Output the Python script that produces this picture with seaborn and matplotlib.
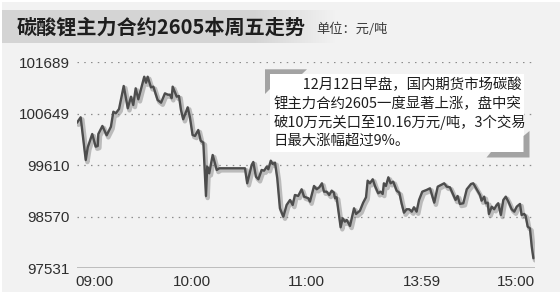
import numpy as np
import pandas as pd
import matplotlib
matplotlib.use("Agg")
import matplotlib.pyplot as plt
import matplotlib.patheffects as pe
from matplotlib.patches import Rectangle, Polygon
import seaborn as sns

# ---------------- data ----------------
title = "碳酸锂主力合约2605本周五走势"
unit_label = "单位：元/吨"
note_lines = [
    "\u3000\u300012月12日早盘，国内期货市场碳酸",
    "锂主力合约2605一度显著上涨，盘中突",
    "破10万元关口至10.16万元/吨，3个交易",
    "日最大涨幅超过9%。",
]

# chart time (minutes on the chart's own time axis) and price (元/吨)
minutes = [
    0.0, 1.8, 4.3, 5.3, 7.5, 9.2, 10.2, 10.5, 12.5, 14.6, 16.7, 17.9, 19.1, 20.7,
    23.0, 25.0, 26.6, 27.7, 28.9, 30.2, 33.1, 34.0, 34.8, 36.4, 37.6, 39.7, 41.4,
    43.3, 44.7, 45.8, 46.6, 47.1, 49.1, 50.2, 51.2, 52.3, 54.5, 55.6,
    56.9, 58.1, 59.7, 60.9, 62.2, 63.5, 64.1, 65.1, 66.8, 68.8, 70.1, 82.7, 83.8,
    86.0, 86.8, 88.1, 89.3, 90.9, 92.1, 93.4, 94.2, 95.4, 96.3, 97.5, 98.6, 99.9,
    101.6, 103.2, 104.9, 106.2, 107.3, 108.9, 110.6, 111.8, 113.9,
    114.7, 116.7, 118.0, 119.3, 120.6, 121.6, 122.9, 124.2, 125.4, 126.5, 127.0,
    127.8, 129.8, 130.8, 131.9, 132.8, 134.4, 136.4, 137.4, 139.3, 140.9, 142.3,
    143.1, 144.2, 145.6, 146.7, 148.3, 149.5, 150.5, 151.1, 152.1, 153.3, 154.4,
    155.7, 157.4, 158.7, 159.8, 161.0, 162.3, 163.6, 164.8, 165.9, 167.2, 168.4,
    170.0, 172.1, 173.8, 175.9, 177.6, 179.2, 180.8, 182.0, 183.6, 185.3, 186.4,
    187.4, 188.5, 190.2, 191.9, 194.0, 195.1, 196.8, 198.4, 199.2, 200.5, 201.2,
    202.2, 202.8, 204.2, 205.4, 206.6, 207.4, 208.7, 209.9, 211.1, 212.4, 214.0,
    215.3, 216.5, 218.1, 218.9, 220.2, 220.9, 221.9, 223.0, 223.9, 224.7,
]
prices = [
    100470, 100579, 99717, 99974, 100242, 99986, 100000, 100242, 100404, 100216,
    100389, 100692, 100660, 100747, 101211, 100761, 100995, 100827, 101164, 100942,
    101398, 101277, 101398, 101184, 101197, 100928, 100874, 101063, 101035, 101035,
    100963, 101197, 100995, 101009, 100726, 100539, 100781, 100579,
    100222, 100202, 100323, 100107, 100067, 98991, 99582, 99449, 99818, 99516,
    99550, 99550, 99247, 99617, 99677, 99380, 99328, 99516, 99501, 99582, 99530,
    99703, 99637, 99663, 99348, 98743, 98573, 98809, 98910, 98809, 99011, 98991,
    99126, 98977, 98945,
    98876, 99193, 99126, 99166, 99247, 99078, 99078, 99011, 99098, 99057, 98945,
    98965, 98359, 98541, 98472, 98507, 98386, 98743, 98628, 98694, 98856, 98965,
    99300, 99247, 99328, 99193, 99045, 99078, 99031, 99247, 99193, 99368, 99247,
    99280, 99098, 99057, 98844, 98654, 98723, 98723, 98674, 98763, 98674, 98910,
    99078, 99112, 99146, 98856, 99179, 99213, 99247, 99179, 99166, 99011, 98910,
    98991, 98830, 98844, 99126, 99233, 99247, 99126, 99011, 98896, 98977, 98844,
    98856, 98628, 98775, 98723, 98809, 98844, 98608, 98910, 98977, 98876, 98723,
    98674, 98775, 98830, 98608, 98628, 98587, 98371, 98339, 97968, 97734,
]
y_ticks = [97531, 98570, 99610, 100649, 101689]
x_tick_pos = [8.6, 56.5, 113.1, 169.8, 216.1]
x_tick_labels = ["09:00", "10:00", "11:00", "13:59", "15:00"]

df = pd.DataFrame({"minute": minutes, "price": prices})

# ---------------- style ----------------
BG = "#f2f2f2"
sns.set_style("white")
plt.rcParams["font.family"] = ["Noto Sans CJK SC", "DejaVu Sans"]

W, H = 560, 294
fig = plt.figure(figsize=(W / 100, H / 100), dpi=100, facecolor=BG)


def fx(px):
    return px / W


def fy(py):
    return 1 - py / H


# title band with gradient
band = fig.add_axes([0, fy(43), fx(335), 33 / H])
xs = np.arange(335)
c0, c1 = 0.835, 0.949
vals = np.where(xs < 255, c0, c0 + (c1 - c0) * np.clip((xs - 255) / 80, 0, 1))
img = np.repeat(np.repeat(vals[None, :, None], 3, axis=2), 2, axis=0)
band.imshow(img, aspect="auto", extent=(0, 1, 0, 1))
band.set_axis_off()

fig.text(fx(17), fy(27), title, fontsize=14.5, fontweight="bold", color="#1e1e1e",
         va="center", ha="left")
fig.text(fx(316), fy(29.5), unit_label, fontsize=9.5, color="#3a3a3a",
         va="center", ha="left")

# main axes
ax = fig.add_axes([fx(77), fy(268.3), fx(535 - 77), (268.3 - 62.3) / H])
ax.set_facecolor(BG)
for yv in y_ticks[1:]:
    ax.axhline(yv, color="#8c8c8c", lw=0.9, ls=(0, (1.2, 4.2)), zorder=1)
ax.axhline(y_ticks[0], color="#b9b9b9", lw=1.3, zorder=1)

sns.lineplot(data=df, x="minute", y="price", ax=ax, sort=False, estimator=None,
             color="#4d4d4d", lw=1.7, zorder=3,
             path_effects=[pe.SimpleLineShadow(offset=(1.2, -1.5), shadow_color="#7a7a7a",
                                               alpha=0.45, linewidth=3.2),
                           pe.Normal()])

ax.set_xlim(0, 225.5)
ax.set_ylim(y_ticks[0], y_ticks[-1])
ax.set_yticks(y_ticks)
ax.set_yticklabels([str(v) for v in y_ticks])
ax.set_xticks(x_tick_pos)
ax.set_xticklabels(x_tick_labels)
ax.set_xlabel("")
ax.set_ylabel("")
for s in ax.spines.values():
    s.set_visible(False)
ax.tick_params(axis="y", length=0, pad=5, labelsize=11, labelcolor="#2e2e2e")
ax.tick_params(axis="x", length=0, pad=4.5, labelsize=11, labelcolor="#2e2e2e")
for lab in ax.get_xticklabels() + ax.get_yticklabels():
    lab.set_fontfamily(["Liberation Sans", "DejaVu Sans"])

# annotation box
fig.patches.append(Rectangle((fx(270), fy(152)), fx(523.5 - 270), (152 - 74) / H,
                             transform=fig.transFigure, facecolor="white",
                             edgecolor="none", zorder=5))
corner_col = "#a3a3a3"
tl = [(265, 69.3), (307, 69.3), (302, 74), (270, 74), (270, 89), (265, 94)]
br = [(529.5, 157.5), (486.5, 157.5), (491, 152), (523.5, 152), (523.5, 136), (529.5, 131)]
for poly in (tl, br):
    fig.patches.append(Polygon([(fx(a), fy(b)) for a, b in poly], closed=True,
                               transform=fig.transFigure, facecolor=corner_col,
                               edgecolor="none", zorder=6))
line_y = [85, 103.6, 122.4, 141]
for txt, yy in zip(note_lines, line_y):
    fig.text(fx(273.5), fy(yy), txt, fontsize=10.4, color="#1e1e1e",
             va="center", ha="left", zorder=7)

# white frame on top, left, bottom
for rect in [(0, 0, W, 2), (0, 0, 2, H), (0, H - 2, W, 2)]:
    x0, y0, w, h = rect
    fig.patches.append(Rectangle((fx(x0), fy(y0 + h)), fx(w), h / H,
                                 transform=fig.transFigure, facecolor="white",
                                 edgecolor="none", zorder=8))

fig.savefig("out.png", dpi=100, facecolor=BG)
